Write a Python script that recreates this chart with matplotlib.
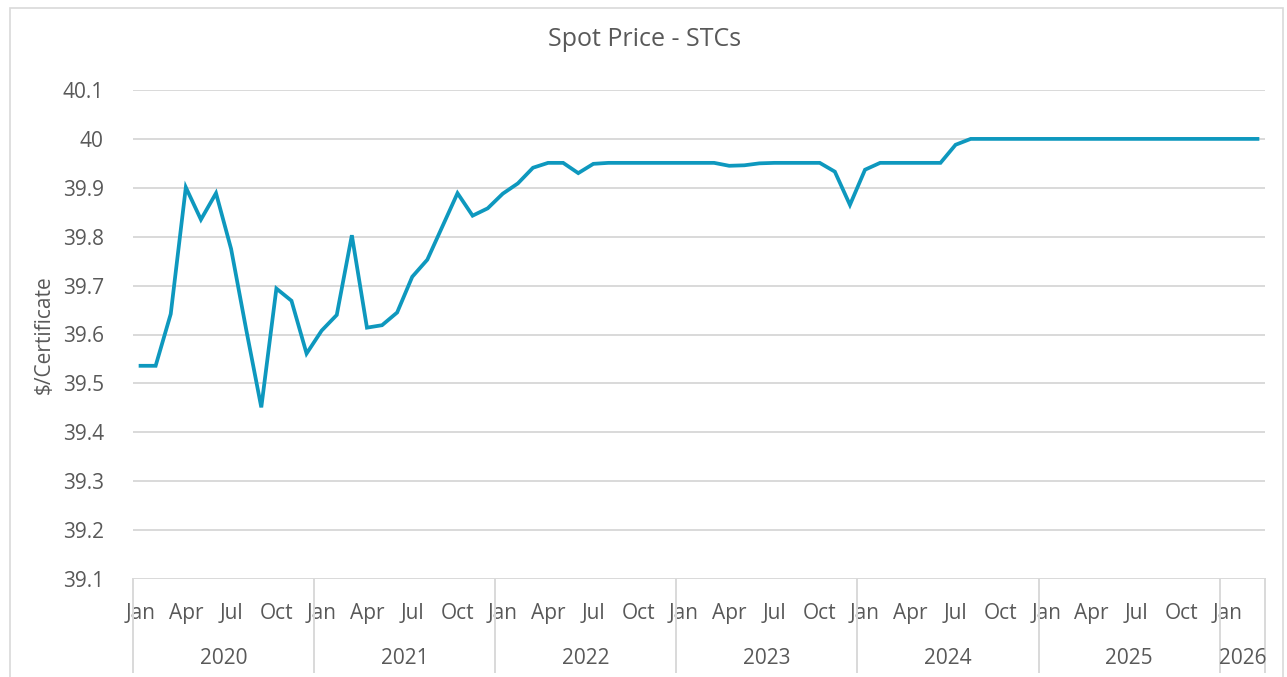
import matplotlib
matplotlib.use("Agg")
import matplotlib.pyplot as plt
import matplotlib.transforms as mtransforms
from matplotlib.patches import Rectangle

# ---- data ----
years = ["2020", "2021", "2022", "2023", "2024", "2025", "2026"]
month_names = ["Jan", "Feb", "Mar", "Apr", "May", "Jun",
               "Jul", "Aug", "Sep", "Oct", "Nov", "Dec"]
months_per_year = [12, 12, 12, 12, 12, 12, 3]

prices = [
    # 2020
    39.536, 39.536, 39.642, 39.901, 39.835, 39.889, 39.775, 39.610, 39.451, 39.694, 39.669, 39.561,
    # 2021
    39.608, 39.640, 39.803, 39.614, 39.619, 39.645, 39.718, 39.753, 39.821, 39.889, 39.843, 39.858,
    # 2022
    39.888, 39.909, 39.941, 39.951, 39.951, 39.930, 39.949, 39.951, 39.951, 39.951, 39.951, 39.951,
    # 2023
    39.951, 39.951, 39.951, 39.945, 39.946, 39.950, 39.951, 39.951, 39.951, 39.951, 39.933, 39.865,
    # 2024
    39.937, 39.951, 39.951, 39.951, 39.951, 39.951, 39.988, 40.000, 40.000, 40.000, 40.000, 40.000,
    # 2025
    40.000, 40.000, 40.000, 40.000, 40.000, 40.000, 40.000, 40.000, 40.000, 40.000, 40.000, 40.000,
    # 2026
    40.000, 40.000, 40.000,
]
y_ticks = [39.1, 39.2, 39.3, 39.4, 39.5, 39.6, 39.7, 39.8, 39.9, 40.0, 40.1]
y_tick_labels = ["39.1", "39.2", "39.3", "39.4", "39.5", "39.6", "39.7", "39.8", "39.9", "40", "40.1"]
shown_months = ["Jan", "Apr", "Jul", "Oct"]

# ---- style ----
TEXT = "#595959"
GRID = "#d9d9d9"
LINE = "#0E98BE"
FONT = ["Open Sans", "DejaVu Sans"]
plt.rcParams["font.family"] = FONT

W, H = 1287, 677
fig = plt.figure(figsize=(W / 100, H / 100), dpi=100)
fig.patch.set_facecolor("white")

# outer chart border
fig.patches.append(Rectangle((10 / W, -0.05), (1283 - 10) / W, 1.05 - 8 / H,
                             transform=fig.transFigure, fill=False,
                             edgecolor=GRID, linewidth=1.2))

left, right = 133 / W, 1265 / W
bottom, top = 1 - 579 / H, 1 - 90 / H
ax = fig.add_axes([left, bottom, right - left, top - bottom])

n = len(prices)
x = list(range(n))
ax.plot(x, prices, color=LINE, linewidth=2.7, solid_joinstyle="miter", zorder=3)

ax.set_xlim(-0.5, n - 0.5)
ax.set_ylim(39.1, 40.1)
ax.set_yticks(y_ticks)
ax.set_yticklabels(y_tick_labels)
ax.yaxis.grid(True, color=GRID, linewidth=1.4)
ax.set_axisbelow(True)
for s in ax.spines.values():
    s.set_visible(False)
ax.tick_params(axis="y", length=0, pad=21, labelsize=15, labelcolor=TEXT)

# month ticks
labels_full = []
for ycount in months_per_year:
    labels_full += month_names[:ycount]
tick_pos = [i for i, m in enumerate(labels_full) if m in shown_months]
tick_lab = [labels_full[i] for i in tick_pos]
ax.set_xticks(tick_pos)
ax.set_xticklabels(tick_lab)
ax.tick_params(axis="x", length=0, pad=17, labelsize=15, labelcolor=TEXT)

# year labels and separators
trans = mtransforms.blended_transform_factory(ax.transData, ax.transAxes)
ax_h = 579 - 90
sep_bottom = -(672 - 579) / ax_h
year_y = -(658 - 579) / ax_h
start = 0
bounds = [-0.5]
for yr, cnt in zip(years, months_per_year):
    center = start + (cnt - 1) / 2
    ax.text(center, year_y, yr, transform=trans, ha="center", va="center",
            fontsize=15, color=TEXT)
    start += cnt
    bounds.append(start - 0.5)
for b in bounds:
    ax.plot([b, b], [0, sep_bottom], transform=trans, color=GRID,
            linewidth=1.4, clip_on=False)

ax.set_ylabel("$/Certificate", fontsize=15, color=TEXT)
ax.yaxis.set_label_coords(-(133 - 55) / (1265 - 133), 0.5)

fig.text(645 / W, 1 - 40 / H, "Spot Price - STCs", ha="center", va="center",
         fontsize=18, color=TEXT)

fig.savefig("out.png", dpi=100)
